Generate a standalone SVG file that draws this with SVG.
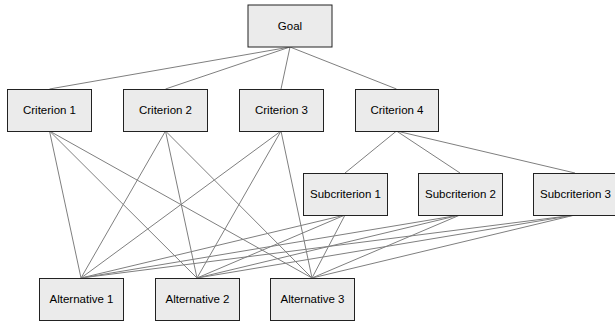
<svg xmlns="http://www.w3.org/2000/svg" width="615" height="324" viewBox="0 0 615 324">
<style>
.box{fill:#ebebeb;stroke:#222;stroke-width:1}
.lbl{font-family:"Liberation Sans",Arial,sans-serif;font-size:11.5px;fill:#000;text-anchor:middle}
.edge{stroke:#7f7f7f;stroke-width:1;fill:none}
</style>
<rect width="615" height="324" fill="#fff"/>
<g id="connectors" class="edge">
<line x1="290" y1="47" x2="49.5" y2="89"/>
<line x1="290" y1="47" x2="165.5" y2="89"/>
<line x1="290" y1="47" x2="281" y2="89"/>
<line x1="290" y1="47" x2="396.5" y2="89"/>
<line x1="396.5" y1="131" x2="345" y2="173"/>
<line x1="396.5" y1="131" x2="460" y2="173"/>
<line x1="396.5" y1="131" x2="575" y2="173"/>
<line x1="49.5" y1="131" x2="81" y2="278"/>
<line x1="49.5" y1="131" x2="197" y2="278"/>
<line x1="49.5" y1="131" x2="312" y2="278"/>
<line x1="165.5" y1="131" x2="81" y2="278"/>
<line x1="165.5" y1="131" x2="197" y2="278"/>
<line x1="165.5" y1="131" x2="312" y2="278"/>
<line x1="281" y1="131" x2="81" y2="278"/>
<line x1="281" y1="131" x2="197" y2="278"/>
<line x1="281" y1="131" x2="312" y2="278"/>
<line x1="345" y1="215" x2="81" y2="278"/>
<line x1="345" y1="215" x2="197" y2="278"/>
<line x1="345" y1="215" x2="312" y2="278"/>
<line x1="460" y1="215" x2="81" y2="278"/>
<line x1="460" y1="215" x2="197" y2="278"/>
<line x1="460" y1="215" x2="312" y2="278"/>
<line x1="575" y1="215" x2="81" y2="278"/>
<line x1="575" y1="215" x2="197" y2="278"/>
<line x1="575" y1="215" x2="312" y2="278"/>
</g>
<g id="goal"><rect class="box" x="248" y="5" width="84" height="42"/><text class="lbl" x="290" y="30">Goal</text></g>
<g id="criterion1"><rect class="box" x="7.5" y="89.5" width="84" height="42"/><text class="lbl" x="49.5" y="114">Criterion 1</text></g>
<g id="criterion2"><rect class="box" x="123.5" y="89.5" width="84" height="42"/><text class="lbl" x="165.5" y="114">Criterion 2</text></g>
<g id="criterion3"><rect class="box" x="239.5" y="89.5" width="84" height="42"/><text class="lbl" x="281.5" y="114">Criterion 3</text></g>
<g id="criterion4"><rect class="box" x="355.5" y="89.5" width="83" height="42"/><text class="lbl" x="397" y="114">Criterion 4</text></g>
<g id="subcriterion1"><rect class="box" x="303.5" y="173.5" width="84" height="42"/><text class="lbl" x="345.5" y="198">Subcriterion 1</text></g>
<g id="subcriterion2"><rect class="box" x="418.5" y="173.5" width="84" height="42"/><text class="lbl" x="460.5" y="198">Subcriterion 2</text></g>
<g id="subcriterion3"><rect class="box" x="533.5" y="173.5" width="84" height="42"/><text class="lbl" x="575.5" y="198">Subcriterion 3</text></g>
<g id="alternative1"><rect class="box" x="39.5" y="278.5" width="84" height="42"/><text class="lbl" x="81.5" y="303">Alternative 1</text></g>
<g id="alternative2"><rect class="box" x="155.5" y="278.5" width="84" height="42"/><text class="lbl" x="197.5" y="303">Alternative 2</text></g>
<g id="alternative3"><rect class="box" x="270.5" y="278.5" width="84" height="42"/><text class="lbl" x="312.5" y="303">Alternative 3</text></g>
</svg>
